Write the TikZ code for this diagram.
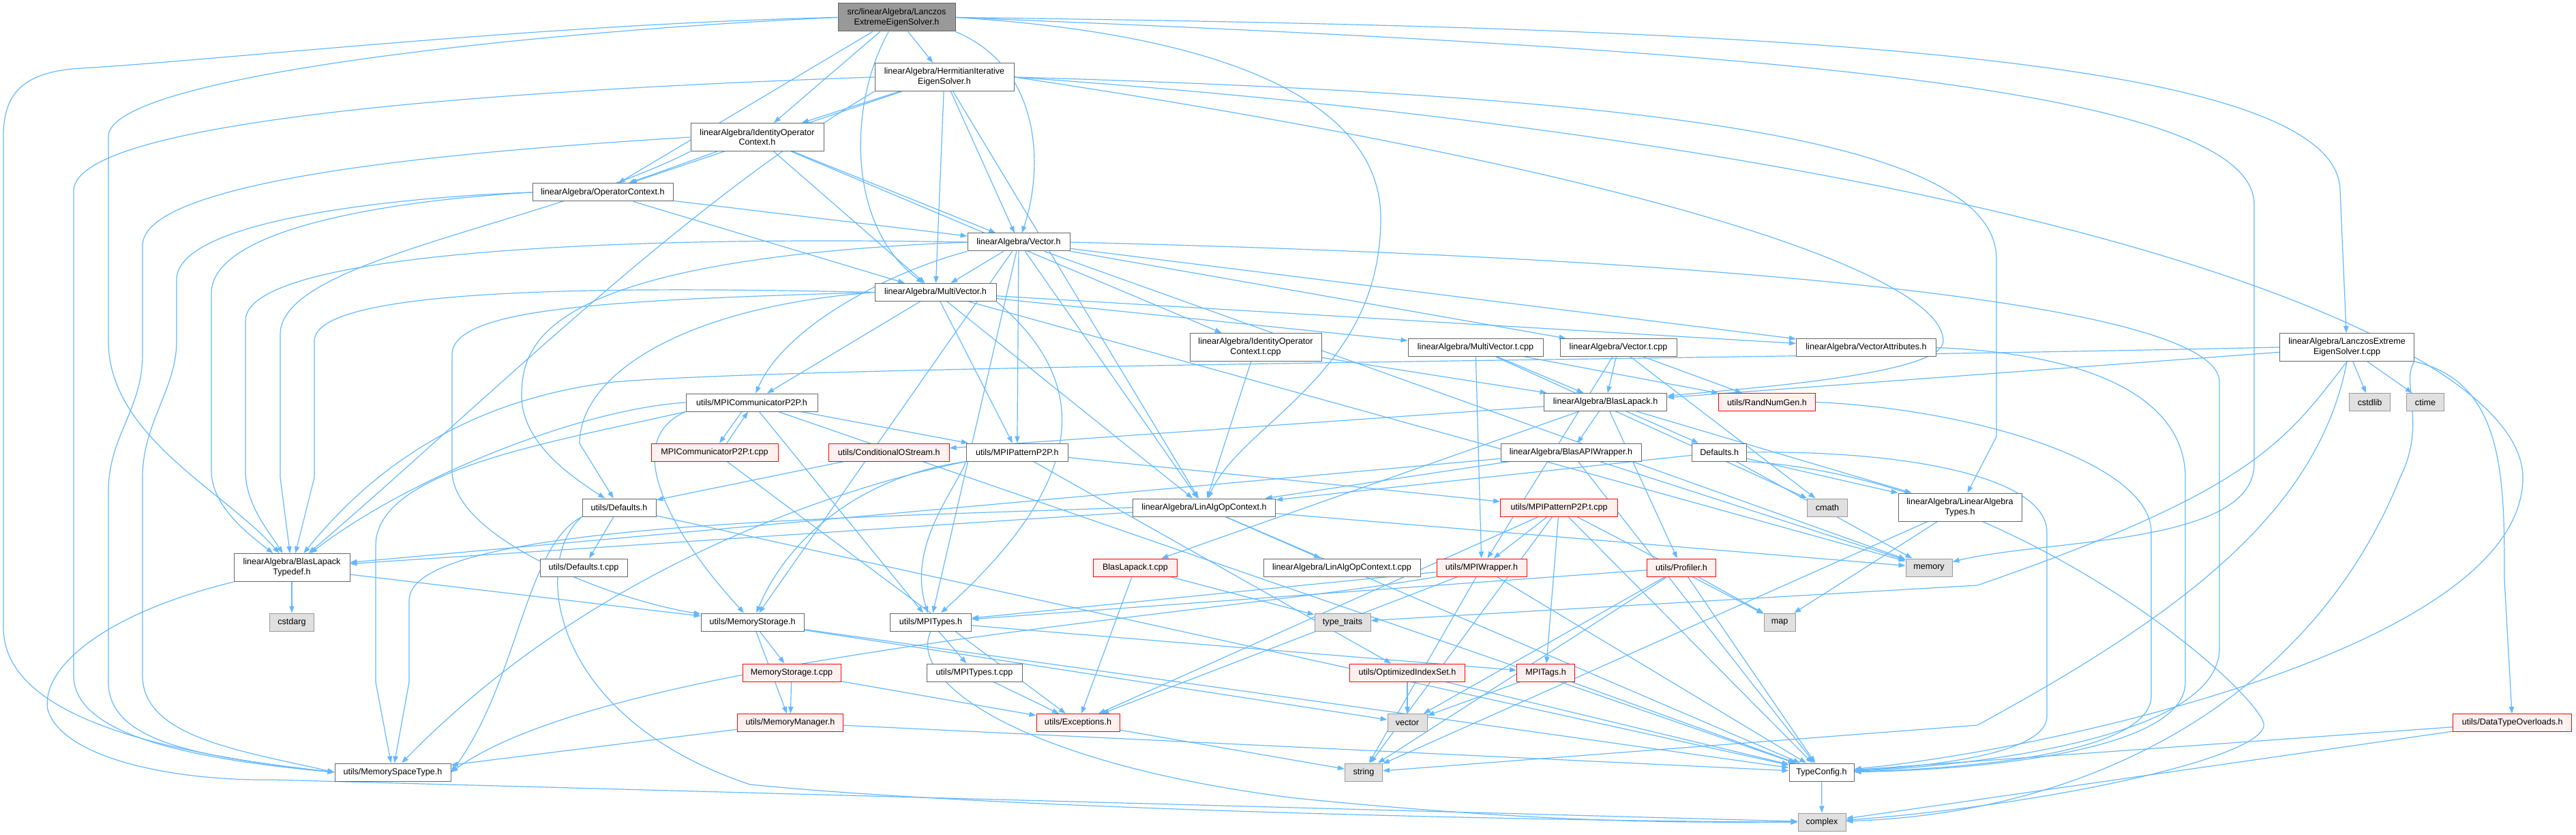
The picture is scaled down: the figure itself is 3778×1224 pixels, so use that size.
\documentclass[tikz,border=0pt]{standalone}
\usepackage{fontspec}
\setmainfont{Liberation Sans}
\usepackage{tikz}
\usetikzlibrary{arrows.meta}

\definecolor{edgeblue}{HTML}{63B8FF}
\definecolor{boxgray}{HTML}{666666}
\definecolor{mainfill}{HTML}{999999}
\definecolor{redfill}{HTML}{FFF0F0}
\definecolor{sysfill}{HTML}{E0E0E0}
\definecolor{sysline}{HTML}{999999}

\pgfdeclarelayer{bg}
\pgfsetlayers{bg,main}

\begin{document}
\begin{tikzpicture}[
    x=0.5pt, y=-0.5pt,
    every node/.style={draw=boxgray, fill=white, line width=0.5pt, inner sep=0pt, minimum height=13pt, align=center, font=\fontsize{6.3}{7.3}\selectfont},
    twoline/.style={minimum height=20.5pt},
    mainfile/.style={fill=mainfill},
    redfile/.style={draw=red, fill=redfill},
    sysfile/.style={draw=sysline, fill=sysfill},
    incl/.style={draw=edgeblue, line width=0.6pt, -{Triangle[length=5pt, width=3.6pt]}}
]
\useasboundingbox (0,0) rectangle (3778,1224);

% files
\node[mainfile, twoline, minimum width=86pt] (top) at (1315,25.5) {src/linearAlgebra/Lanczos\\ExtremeEigenSolver.h};
\node[twoline, minimum width=102pt] (herm) at (1385,113) {linearAlgebra/HermitianIterative\\EigenSolver.h};
\node[twoline, minimum width=97.5pt] (idop) at (1110.5,201) {linearAlgebra/IdentityOperator\\Context.h};
\node[minimum width=103pt] (opctx) at (884,282) {linearAlgebra/OperatorContext.h};
\node[minimum width=75pt] (vec) at (1494,355) {linearAlgebra/Vector.h};
\node[minimum width=89pt] (mvec) at (1372,428.5) {linearAlgebra/MultiVector.h};
\node[twoline, minimum width=96.5pt] (idopt) at (1841.5,509) {linearAlgebra/IdentityOperator\\Context.t.cpp};
\node[minimum width=99pt] (mvect) at (2164,509.5) {linearAlgebra/MultiVector.t.cpp};
\node[minimum width=85.5pt] (vect) at (2373.5,509.5) {linearAlgebra/Vector.t.cpp};
\node[minimum width=102.5pt] (vattr) at (2737,509.5) {linearAlgebra/VectorAttributes.h};
\node[twoline, minimum width=98.5pt] (lant) at (3442,509) {linearAlgebra/LanczosExtreme\\EigenSolver.t.cpp};
\node[minimum width=96.5pt] (comm) at (1102.5,590) {utils/MPICommunicatorP2P.h};
\node[minimum width=90pt] (blas) at (2354.6,589.5) {linearAlgebra/BlasLapack.h};
\node[redfile, minimum width=71pt] (rng) at (2591.5,589.5) {utils/RandNumGen.h};
\node[sysfile, minimum width=30pt] (cstdlib) at (3475.6,589.5) {cstdlib};
\node[sysfile, minimum width=27.5pt] (ctime) at (3557,589.5) {ctime};
\node[redfile, minimum width=93pt] (commt) at (1048,663) {MPICommunicatorP2P.t.cpp};
\node[redfile, minimum width=88.5pt] (cos) at (1303.7,663) {utils/ConditionalOStream.h};
\node[minimum width=74.5pt] (pat) at (1491.8,663) {utils/MPIPatternP2P.h};
\node[minimum width=103pt] (bapi) at (2304,663) {linearAlgebra/BlasAPIWrapper.h};
\node[minimum width=40pt] (ladef) at (2521.7,663) {Defaults.h};
\node[minimum width=54pt] (udef) at (908,744) {utils/Defaults.h};
\node[minimum width=104.5pt] (laoc) at (1766,744) {linearAlgebra/LinAlgOpContext.h};
\node[redfile, minimum width=86pt] (patt) at (2286.6,744) {utils/MPIPatternP2P.t.cpp};
\node[sysfile, minimum width=29.5pt] (cmath) at (2680,744) {cmath};
\node[twoline, minimum width=90.5pt] (latypes) at (2874.5,743.5) {linearAlgebra/LinearAlgebra\\Types.h};
\node[twoline, minimum width=85pt] (bltd) at (428,832) {linearAlgebra/BlasLapack\\Typedef.h};
\node[minimum width=64pt] (udeft) at (856,832) {utils/Defaults.t.cpp};
\node[redfile, minimum width=61.5pt] (blast) at (1665,832) {BlasLapack.t.cpp};
\node[minimum width=115pt] (laoct) at (1968,832) {linearAlgebra/LinAlgOpContext.t.cpp};
\node[redfile, minimum width=66pt] (mpiw) at (2173,832) {utils/MPIWrapper.h};
\node[redfile, minimum width=50.5pt] (prof) at (2466,832) {utils/Profiler.h};
\node[sysfile, minimum width=34pt] (memory) at (2829,832) {memory};
\node[sysfile, minimum width=32.5pt] (cstdarg) at (428,912) {cstdarg};
\node[minimum width=75.5pt] (mstor) at (1103.7,912) {utils/MemoryStorage.h};
\node[minimum width=59.5pt] (mpit) at (1365,912) {utils/MPITypes.h};
\node[sysfile, minimum width=41pt] (ttraits) at (1969,912) {type\_traits};
\node[sysfile, minimum width=23pt] (map) at (2610,912) {map};
\node[redfile, minimum width=72pt] (mstort) at (1161,986) {MemoryStorage.t.cpp};
\node[minimum width=70pt] (mpitt) at (1429,986) {utils/MPITypes.t.cpp};
\node[redfile, minimum width=84.5pt] (ois) at (2064,986) {utils/OptimizedIndexSet.h};
\node[redfile, minimum width=42.5pt] (tags) at (2267,986) {MPITags.h};
\node[redfile, minimum width=77.5pt] (mman) at (1159,1059.5) {utils/MemoryManager.h};
\node[redfile, minimum width=61pt] (exc) at (1581,1059.5) {utils/Exceptions.h};
\node[sysfile, minimum width=29pt] (vector) at (2064,1059.5) {vector};
\node[redfile, minimum width=87pt] (dto) at (3684.7,1059.5) {utils/DataTypeOverloads.h};
\node[minimum width=85pt] (mst) at (576,1132) {utils/MemorySpaceType.h};
\node[sysfile, minimum width=27.5pt] (string) at (2000,1132) {string};
\node[minimum width=47.5pt] (tc) at (2671.5,1132) {TypeConfig.h};
\node[sysfile, minimum width=35pt] (complex) at (2672,1205) {complex};

\begin{pgfonlayer}{bg}
% direct includes
\foreach \src/\dst in {top/herm, top/idop, top/opctx, herm/idop, herm/opctx, herm/vec, herm/mvec, herm/laoc,
    idop/opctx, idop/vec, idop/mvec, idop/idopt, opctx/vec, opctx/mvec,
    vec/mvec, vec/pat, vec/vect, vec/vattr, vec/laoc, vec/mstor, vec/mpit, vec/memory,
    mvec/mvect, mvec/vattr, mvec/comm, mvec/pat, mvec/laoc, mvec/memory,
    idopt/blas, idopt/laoc, mvect/blas, mvect/mpiw, mvect/rng, mvect/cmath,
    vect/blas, vect/mpiw, vect/rng, vect/cmath, lant/blas, lant/cstdlib, lant/ctime,
    comm/pat, comm/mpit, comm/tc, commt/exc,
    blas/bapi, blas/ladef, blas/prof, blas/latypes, blas/cos, blas/blast,
    bapi/laoc, bapi/tc, bapi/memory, bapi/bltd, ladef/laoc, ladef/latypes, ladef/memory,
    pat/patt, pat/ois, udef/udeft, udef/tc, laoc/laoct, laoc/bltd, laoc/memory, laoc/tc,
    patt/mpiw, patt/tags, patt/exc, patt/string, patt/map, patt/tc, cos/udef,
    bltd/cstdarg, bltd/mstor, blast/exc, blast/ttraits,
    mpiw/mpit, mpiw/exc, mpiw/string, mpiw/tc, prof/map, prof/tc, prof/string, prof/vector, prof/mpit,
    mstor/mstort, mstor/mman, mstor/tc, mstor/vector, mpit/mpitt, mpit/tags, mpitt/exc,
    mstort/mman, mstort/exc, mman/mst, mman/tc, ois/vector, ois/tc, tags/vector, tags/tc,
    exc/string, tc/complex, dto/tc, dto/complex, latypes/map, latypes/string}
    \draw[incl] (\src) -- (\dst);

\draw[incl] ([xshift=-7.25pt]comm.south) -- ([xshift=3.5pt]commt.north);
\draw[incl] ([xshift=9pt]commt.north) -- ([xshift=-2.75pt]comm.south);

% long sweeps on the left
\draw[incl] (top.west) .. controls (800,35) and (300,90) .. (120,100) .. controls (30,105) and (5,140) .. (5,200) -- (5,920) .. controls (5,1040) and (200,1100) .. (mst.west);
\draw[incl] (top.west) .. controls (800,45) and (159,110) .. (159,200) -- (159,500) .. controls (159,640) and (330,720) .. (bltd);
\draw[incl] (herm.west) .. controls (800,130) and (108,170) .. (108,280) -- (108,990) .. controls (108,1070) and (250,1110) .. (mst.west);
\draw[incl] (idop.west) .. controls (800,215) and (209,250) .. (209,360) -- (209,520) .. controls (209,600) and (159,640) .. (159,720) -- (159,1000) .. controls (159,1090) and (300,1110) .. (mst.west);
\draw[incl] (opctx.west) .. controls (600,288) and (259,320) .. (259,410) -- (259,500) .. controls (259,570) and (209,620) .. (209,700) -- (209,990) .. controls (209,1080) and (350,1100) .. (mst.west);
\draw[incl] (opctx.west) .. controls (600,292) and (310,330) .. (310,430) -- (310,690) .. controls (310,740) and (360,780) .. (bltd);
\draw[incl] (vec.west) .. controls (900,345) and (360,370) .. (360,470) -- (360,690) .. controls (360,740) and (395,780) .. (bltd);
\draw[incl] (idop.south west) .. controls (800,330) and (411,380) .. (411,490) -- (411,700) -- (bltd);
\draw[incl] (mvec.west) .. controls (900,420) and (461,420) .. (461,500) -- (461,700) -- (bltd);
\draw[incl] (mvec.west) .. controls (900,440) and (663,450) .. (663,520) -- (663,690) .. controls (663,790) and (900,880) .. (mstor);
\draw[incl] (lant.west) .. controls (2500,528) and (1200,535) .. (900,560) .. controls (650,590) and (520,720) .. (bltd);
\draw[incl] (comm.west) .. controls (850,600) and (600,700) .. (bltd);
\draw[incl] (herm.south west) .. controls (1000,300) and (700,600) .. (bltd);
\draw[incl] (comm.south west) .. controls (800,650) and (551,690) .. (551,800) -- (551,1000) -- (mst);
\draw[incl] (laoc.west) .. controls (1200,760) and (600,770) .. (600,880) -- (600,1000) -- (mst);
\draw[incl] (pat.south west) .. controls (1300,700) and (900,800) .. (mst);
\draw[incl] (mpiw.south west) .. controls (1800,900) and (900,960) .. (mst.east);
\draw[incl] (udef.south west) .. controls (770,800) and (760,1000) .. (mst.east);
\draw[incl] (udef.south west) .. controls (780,820) and (800,1050) .. (1100,1150) .. controls (1500,1190) and (2400,1205) .. (complex);
\draw[incl] (bltd.south west) .. controls (150,900) and (60,980) .. (70,1040) .. controls (90,1110) and (250,1145) .. (400,1143) -- (complex);

% through the middle
\draw[incl] (top) .. controls (1245,150) and (1240,330) .. (mvec);
\draw[incl] (top.south east) .. controls (1530,100) and (1530,250) .. (vec);
\draw[incl] (top.east) .. controls (1800,50) and (2025,150) .. (2025,320) .. controls (2025,550) and (1820,620) .. (laoc);
\draw[incl] (vec.south west) .. controls (1300,400) and (1150,480) .. (comm);
\draw[incl] (comm.south west) .. controls (900,650) and (1000,800) .. (mstor);
\draw[incl] (pat.south west) .. controls (1250,700) and (1150,800) .. (mstor);
\draw[incl] (pat.south west) .. controls (1400,720) and (1330,800) .. (mpit);
\draw[incl] (mvec.south east) .. controls (1600,560) and (1600,700) .. (mpit);
\draw[incl] (vec.west) .. controls (800,380) and (765,500) .. (765,580) .. controls (765,650) and (840,700) .. (udef);
\draw[incl] (mvec.west) .. controls (1000,450) and (850,550) .. (850,650) -- (udef);
\draw[incl] (mpit.south) .. controls (1330,1000) and (1500,1120) .. (1900,1170) .. controls (2300,1210) and (2500,1205) .. (complex);

% long sweeps on the right
\draw[incl] (top.east) .. controls (2500,40) and (3432,70) .. (3432,280) -- (lant);
\draw[incl] (top.east) .. controls (2500,70) and (3306,120) .. (3306,300) -- (3306,680) .. controls (3306,800) and (3000,790) .. (memory);
\draw[incl] (herm.east) .. controls (2400,140) and (2928,200) .. (2928,380) -- (2928,640) -- (latypes);
\draw[incl] (herm.east) .. controls (3000,220) and (3700,500) .. (3700,700) .. controls (3700,950) and (3000,1100) .. (tc);
\draw[incl] (herm.east) .. controls (2400,250) and (2850,400) .. (2850,500) .. controls (2850,550) and (2550,570) .. (blas);
\draw[incl] (vec.east) .. controls (2600,380) and (3255,450) .. (3255,560) -- (3255,950) .. controls (3255,1090) and (2850,1125) .. (tc);
\draw[incl] (vattr.east) .. controls (3100,520) and (3205,600) .. (3205,700) -- (3205,1000) .. controls (3205,1110) and (2850,1130) .. (tc);
\draw[incl] (rng.east) .. controls (2900,600) and (3155,680) .. (3155,780) -- (3155,1020) .. controls (3155,1110) and (2850,1128) .. (tc);
\draw[incl] (ladef.east) .. controls (2800,660) and (3002,700) .. (3002,780) -- (3002,1050) .. controls (3002,1110) and (2800,1125) .. (tc);
\draw[incl] (ladef.south east) .. controls (2950,700) and (3300,1000) .. (3320,1060) .. controls (3330,1110) and (3000,1180) .. (complex);
\draw[incl] (lant.south east) .. controls (3673,560) and (3673,700) .. (3673,850) -- (dto);
\draw[incl] (lant.south) .. controls (3350,650) and (3300,720) .. (2900,858) -- (ttraits);
\draw[incl] (lant.south) .. controls (3400,750) and (3200,900) .. (2900,1063) -- (string);
\draw[incl] (lant.south east) .. controls (3520,560) and (3560,620) .. (3520,700) .. controls (3400,1000) and (3100,1190) .. (complex);
\end{pgfonlayer}
\end{tikzpicture}
\end{document}
